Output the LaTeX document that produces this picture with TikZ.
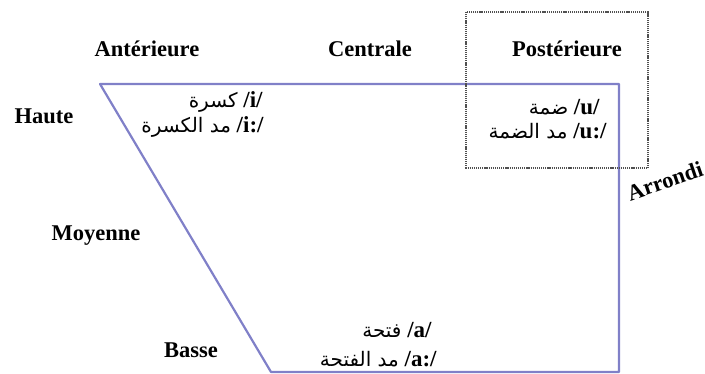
\documentclass[tikz,border=0pt]{standalone}
\usepackage{fontspec}
\setmainfont{Liberation Serif}
\newfontfamily\arabicfont[Script=Arabic]{DejaVu Sans}
\TeXXeTstate=1
\definecolor{trap}{RGB}{128,128,200}
\definecolor{dotc}{RGB}{80,80,80}
\tikzset{
  axislbl/.style={font=\fontsize{22.5}{26}\selectfont\bfseries, inner sep=0pt},
  vowel/.style={font=\fontsize{23}{26}\selectfont, inner sep=0pt, anchor=east},
  trapline/.style={draw=trap, line width=2.2pt, line join=round},
  dotbox/.style={draw=dotc, line width=1.6pt, dash pattern=on 1.2pt off 0.9pt}
}
\newcommand{\ar}[1]{{\arabicfont\fontsize{20}{24}\selectfont\beginR #1\endR}}
\newcommand{\ph}[1]{\textbf{/#1/}}
\begin{document}
\begin{tikzpicture}[x=1pt,y=-1pt]
\useasboundingbox (0,0) rectangle (705,374);
% trapezoid
\coordinate (tl) at (100,84);
\coordinate (tr) at (619,84);
\coordinate (br) at (619,372);
\coordinate (bl) at (271,372);
\draw[trapline] (tl) -- (tr) -- (br) -- (bl) -- cycle;
% dotted rectangle
\coordinate (d1) at (466,12);
\coordinate (d2) at (648,168);
\draw[dotbox] (d1) rectangle (d2);
% axis labels
\node[axislbl] (ant) at (147,49) {Antérieure};
\node[axislbl] (cen) at (370,49) {Centrale};
\node[axislbl] (post) at (567,49) {Postérieure};
\node[axislbl] (hau) at (44,116) {Haute};
\node[axislbl] (moy) at (96,236) {Moyenne};
\node[axislbl] (bas) at (191,350) {Basse};
\node[axislbl, rotate=19] (arr) at (665,181) {Arrondi};
% vowels
\node[vowel] (i1) at (263,102) {\ar{كسرة} \ph{i}};
\node[vowel] (i2) at (264,127) {\ar{مد الكسرة} \ph{i:}};
\node[vowel] (u1) at (600,107) {\ar{ضمة} \ph{u}};
\node[vowel] (u2) at (607,131) {\ar{مد الضمة} \ph{u:}};
\node[vowel] (a1) at (432,330) {\ar{فتحة} \ph{a}};
\node[vowel] (a2) at (437,359) {\ar{مد الفتحة} \ph{a:}};
\end{tikzpicture}
\end{document}
